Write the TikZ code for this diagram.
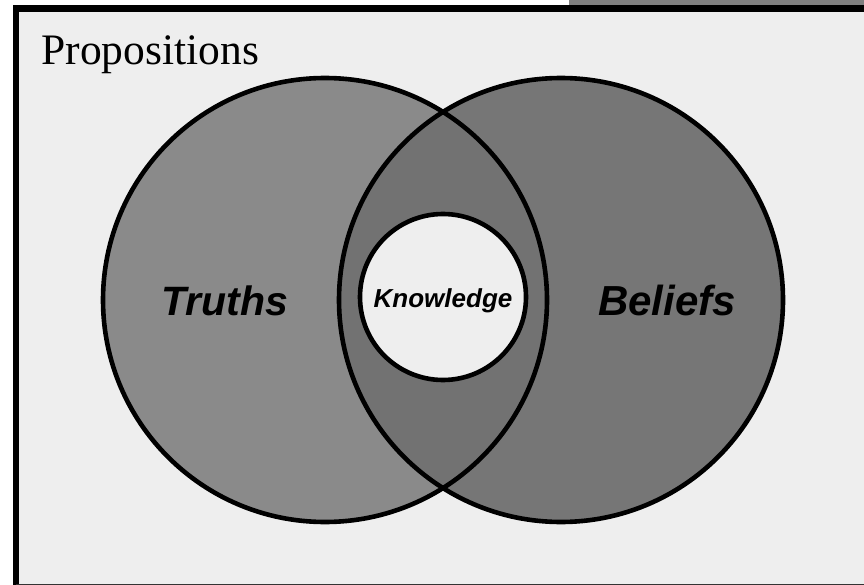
\documentclass[tikz,border=0pt]{standalone}
\usepackage{fontspec}
\usepackage{xcolor}
\usepackage{tikz}
\setmainfont{Liberation Serif}
\newfontfamily\setfont{Liberation Sans}

\definecolor{propbg}{HTML}{EEEEEE}
\definecolor{bargray}{HTML}{808080}
\definecolor{truthgray}{HTML}{8A8A8A}
\definecolor{beliefgray}{HTML}{767676}
\definecolor{lensgray}{HTML}{727272}

\begin{document}
\begin{tikzpicture}[x=1pt,y=-1pt]
        % Define the centres of the three sets
        \coordinate (truths-c) at (325, 300);
        \coordinate (beliefs-c) at (561, 300);
        \coordinate (knowledge-c) at (443, 297);

        % Page and frame of the set of propositions
        \useasboundingbox (0, 0) rectangle (864, 585);
        \fill [white] (0, 0) rectangle (864, 585);
        \fill [bargray] (569, 0) rectangle (864, 5);
        \fill [propbg] (16, 8.5) rectangle (864, 584);
        \draw [line width=6.5pt] (864, 8.5) -- (16, 8.5) -- (16, 585);
        \draw [black!80, line width=1.5pt] (16, 584.5) -- (864, 584.5);
        \node [anchor=base west, font=\fontsize{43.5}{43.5}\selectfont] (propositions) at (38, 65) {Propositions};

        % Fill the two sets and their overlap
        \fill [truthgray] (truths-c) circle (222);
        \fill [beliefgray] (beliefs-c) circle (222);
        \begin{scope}
            \clip (truths-c) circle (222);
            \fill [lensgray] (beliefs-c) circle (222);
        \end{scope}

        % Outlines of the sets
        \foreach \c in {truths-c, beliefs-c} {
            \draw [line width=4.6pt] (\c) circle (222);
        }
        \draw [fill=propbg, line width=4.6pt] (knowledge-c) circle (83);

        % Add the set labels
        \node [anchor=base, font=\setfont\bfseries\itshape\fontsize{41}{41}\selectfont] (truths) at (225, 315) {Truths};
        \node [anchor=base, font=\setfont\bfseries\itshape\fontsize{42}{42}\selectfont] (beliefs) at (667, 315) {Beliefs};
        \node [anchor=base, font=\setfont\bfseries\itshape\fontsize{26}{26}\selectfont] (knowledge) at (443, 307) {Knowledge};
    \end{tikzpicture}
\end{document}
